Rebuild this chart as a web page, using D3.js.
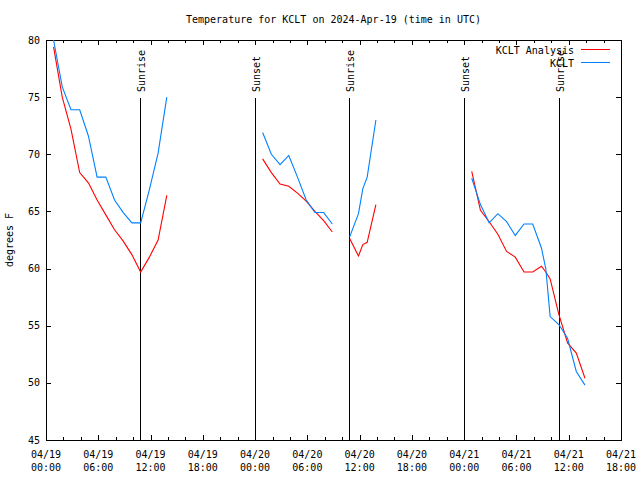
<!DOCTYPE html>
<html><head><meta charset="utf-8">
<script src="https://cdn.jsdelivr.net/npm/d3@7"></script>
<style>
body{margin:0;background:#fff}
svg text{font-family:"DejaVu Sans Mono","Liberation Mono",monospace;font-size:10px;fill:#000}
</style>
</head><body>
<svg id="chart" width="640" height="480"></svg>
<script>
// ---------------- data ----------------
const chartTitle = "Temperature for KCLT on 2024-Apr-19 (time in UTC)";
const yAxisLabel = "degrees F";
const seriesNames = ["KCLT Analysis", "KCLT"];
const seriesColors = ["#ff0000", "#0080ff"];

// observation times (UTC); entries with null values mark gaps
const times = [
  "2024-04-19 00:52","2024-04-19 01:52","2024-04-19 02:52","2024-04-19 03:52","2024-04-19 04:52",
  "2024-04-19 05:52","2024-04-19 06:52","2024-04-19 07:52","2024-04-19 08:52","2024-04-19 09:52",
  "2024-04-19 10:52","2024-04-19 11:52","2024-04-19 12:52","2024-04-19 13:52",
  "2024-04-19 18:00",
  "2024-04-20 00:52","2024-04-20 01:52","2024-04-20 02:52","2024-04-20 03:52","2024-04-20 04:52",
  "2024-04-20 05:52","2024-04-20 06:52","2024-04-20 07:52","2024-04-20 08:52",
  "2024-04-20 09:30",
  "2024-04-20 10:52","2024-04-20 11:52","2024-04-20 12:22","2024-04-20 12:52","2024-04-20 13:52",
  "2024-04-20 18:00",
  "2024-04-21 00:52","2024-04-21 01:52","2024-04-21 02:52","2024-04-21 03:52","2024-04-21 04:52",
  "2024-04-21 05:52","2024-04-21 06:52","2024-04-21 07:52","2024-04-21 08:52","2024-04-21 09:22",
  "2024-04-21 09:52","2024-04-21 10:52","2024-04-21 11:52","2024-04-21 12:52","2024-04-21 13:52"
];
const analysisTemps = [
  79.4,75.0,72.2,68.4,67.5,66.0,64.7,63.4,62.4,61.2,59.7,61.0,62.5,66.4,
  null,
  69.6,68.4,67.4,67.2,66.6,65.9,65.0,64.2,63.2,
  null,
  62.6,61.1,62.1,62.3,65.6,
  null,
  68.5,65.1,64.1,63.0,61.5,61.0,59.7,59.7,60.2,59.7,59.1,56.0,53.5,52.6,50.4
];
const observedTemps = [
  80.0,75.9,73.9,73.9,71.6,68.0,68.0,66.0,64.9,64.0,64.0,66.9,70.1,75.0,
  null,
  71.9,70.0,69.1,69.9,68.0,66.0,64.9,64.9,63.9,
  null,
  62.8,64.8,67.0,68.0,73.0,
  null,
  67.9,65.6,64.0,64.8,64.1,62.9,63.9,63.9,61.8,60.0,55.8,55.1,53.9,51.0,49.8
];

const sunTimes  = ["2024-04-19 10:49","2024-04-19 23:58","2024-04-20 10:47","2024-04-20 23:59","2024-04-21 10:50"];
const sunLabels = ["Sunrise","Sunset","Sunrise","Sunset","Sunrise"];

const yTickValues = [45,50,55,60,65,70,75,80];
const xDomain = ["2024-04-19 00:00","2024-04-21 18:00"];
const yDomain = [45, 80];

// ---------------- drawing ----------------
const parse = d3.utcParse("%Y-%m-%d %H:%M");
const svg = d3.select("#chart");
const L = 46, R = 621, T = 40, B = 440;

const x = d3.scaleUtc().domain(xDomain.map(parse)).range([L, R]);
const y = d3.scaleLinear().domain(yDomain).range([B, T]);

const crisp = v => Math.round(v) + 0.5;

// title
svg.append("text").attr("x", (L + R) / 2).attr("y", 23)
  .attr("text-anchor", "middle").text(chartTitle);

// y label
svg.append("text").attr("transform", "translate(13,240) rotate(-90)")
  .attr("text-anchor", "middle").text(yAxisLabel);

const g = svg.append("g").attr("shape-rendering", "crispEdges")
  .attr("stroke", "#000").attr("stroke-width", 1);

// y ticks (left + mirrored right)
yTickValues.forEach(v => {
  const yy = crisp(y(v));
  g.append("line").attr("x1", L).attr("x2", L + 5).attr("y1", yy).attr("y2", yy);
  g.append("line").attr("x1", R - 5).attr("x2", R).attr("y1", yy).attr("y2", yy);
  svg.append("text").attr("x", 40).attr("y", y(v) + 3.5)
    .attr("text-anchor", "end").text(v);
});

// x ticks: minor every 2h, major every 6h
const minorTicks = d3.utcHour.every(2).range(x.domain()[0], new Date(+x.domain()[1] + 1));
minorTicks.forEach(t => {
  const xx = crisp(x(t));
  const major = t.getUTCHours() % 6 === 0;
  const len = major ? 5 : 3;
  g.append("line").attr("x1", xx).attr("x2", xx).attr("y1", B).attr("y2", B - len);
  g.append("line").attr("x1", xx).attr("x2", xx).attr("y1", T).attr("y2", T + len);
});
const majorTicks = d3.utcHour.every(6).range(x.domain()[0], new Date(+x.domain()[1] + 1));
const fmtDate = d3.utcFormat("%m/%d"), fmtTime = d3.utcFormat("%H:%M");
majorTicks.forEach(t => {
  const tx = svg.append("text").attr("text-anchor", "middle");
  tx.append("tspan").attr("x", x(t)).attr("y", 458).text(fmtDate(t));
  tx.append("tspan").attr("x", x(t)).attr("y", 471).text(fmtTime(t));
});

// sunrise / sunset markers
sunTimes.forEach((s, i) => {
  const xx = crisp(x(parse(s)));
  g.append("line").attr("x1", xx).attr("x2", xx).attr("y1", 98).attr("y2", B);
  svg.append("text").attr("transform", `translate(${xx + 4},92) rotate(-90)`)
    .attr("text-anchor", "start").text(sunLabels[i]);
});

// frame
g.append("rect").attr("x", L + 0.5).attr("y", T + 0.5)
  .attr("width", R - L).attr("height", B - T).attr("fill", "none");

// series
const dates = times.map(parse);
const line = d3.line().defined(d => d.v != null).x(d => x(d.t)).y(d => y(d.v));
[analysisTemps, observedTemps].forEach((vals, i) => {
  const pts = dates.map((t, k) => ({t, v: vals[k]}));
  svg.append("path").attr("d", line(pts)).attr("fill", "none")
    .attr("stroke", seriesColors[i]).attr("stroke-width", 1.1);
});

// legend
seriesNames.forEach((n, i) => {
  const ly = 49.5 + i * 13;
  svg.append("text").attr("x", 574).attr("y", ly + 4.5).attr("text-anchor", "end").text(n);
  svg.append("line").attr("x1", 581).attr("x2", 610).attr("y1", ly).attr("y2", ly)
    .attr("stroke", seriesColors[i]).attr("stroke-width", 1).attr("shape-rendering", "crispEdges");
});
</script>
</body></html>
